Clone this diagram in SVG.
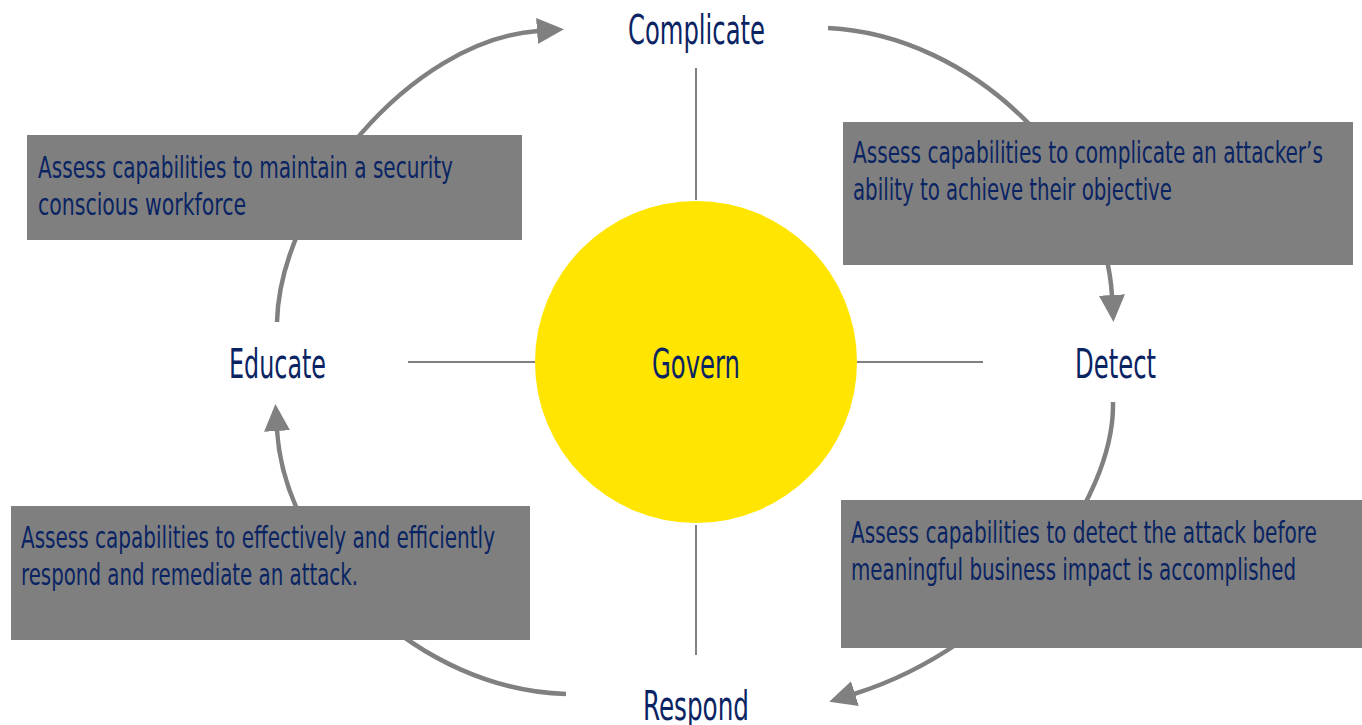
<svg xmlns="http://www.w3.org/2000/svg" width="1362" height="725" viewBox="0 0 1362 725">
<style>
.lbl{font-family:"DejaVu Sans Condensed","Liberation Sans",sans-serif;font-size:40px;fill:#0a2463;text-anchor:start}
.txt{font-family:"DejaVu Sans Condensed","Liberation Sans",sans-serif;font-size:30px;fill:#0a2463}
.box{fill:#7f7f7f}
.arc{fill:none;stroke:#808080;stroke-width:4.5}
.spoke{stroke:#808080;stroke-width:2}
</style>
<defs>
<marker id="ah" markerUnits="userSpaceOnUse" markerWidth="30" markerHeight="30" refX="1" refY="13" orient="auto">
<path d="M0,0 L27,13 L0,26 Z" fill="#808080"/>
</marker>
</defs>
<rect width="1362" height="725" fill="#ffffff"/>
<g id="connectors">
<line class="spoke" x1="696" y1="68" x2="696" y2="200"/>
<line class="spoke" x1="696" y1="525" x2="696" y2="655"/>
<line class="spoke" x1="408" y1="362" x2="535" y2="362"/>
<line class="spoke" x1="857" y1="362" x2="983" y2="362"/>
<path class="arc" d="M828,28 C975,35 1105,170 1112,296" marker-end="url(#ah)"/>
<path class="arc" d="M1113,402 C1115,500 1010,645 854,694" marker-end="url(#ah)"/>
<path class="arc" d="M566,694 C420,690 285,560 277,430" marker-end="url(#ah)"/>
<path class="arc" d="M277,322 C280,200 410,40 538,31" marker-end="url(#ah)"/>
</g>
<g id="govern">
<circle cx="696" cy="362" r="161" fill="#ffe500"/>
<text class="lbl" x="652" y="378" textLength="88" lengthAdjust="spacingAndGlyphs">Govern</text>
</g>
<g id="complicate">
<text class="lbl" x="628" y="44" textLength="137" lengthAdjust="spacingAndGlyphs">Complicate</text>
</g>
<g id="detect">
<text class="lbl" x="1075" y="378" textLength="81" lengthAdjust="spacingAndGlyphs">Detect</text>
</g>
<g id="respond">
<text class="lbl" x="643" y="720" textLength="106" lengthAdjust="spacingAndGlyphs">Respond</text>
</g>
<g id="educate">
<text class="lbl" x="229" y="378" textLength="97" lengthAdjust="spacingAndGlyphs">Educate</text>
</g>
<g id="box-educate">
<rect class="box" x="27" y="135" width="495" height="105"/>
<text class="txt" x="38" y="178" textLength="415" lengthAdjust="spacingAndGlyphs">Assess capabilities to maintain a security</text>
<text class="txt" x="38" y="215" textLength="208" lengthAdjust="spacingAndGlyphs">conscious workforce</text>
</g>
<g id="box-complicate">
<rect class="box" x="843" y="122" width="510" height="143"/>
<text class="txt" x="853" y="163" textLength="470" lengthAdjust="spacingAndGlyphs">Assess capabilities to complicate an attacker’s</text>
<text class="txt" x="853" y="200" textLength="319" lengthAdjust="spacingAndGlyphs">ability to achieve their objective</text>
</g>
<g id="box-detect">
<rect class="box" x="841" y="500" width="521" height="148"/>
<text class="txt" x="851" y="543" textLength="466" lengthAdjust="spacingAndGlyphs">Assess capabilities to detect the attack before</text>
<text class="txt" x="851" y="580" textLength="445" lengthAdjust="spacingAndGlyphs">meaningful business impact is accomplished</text>
</g>
<g id="box-respond">
<rect class="box" x="11" y="506" width="519" height="134"/>
<text class="txt" x="21" y="548" textLength="474" lengthAdjust="spacingAndGlyphs">Assess capabilities to effectively and efficiently</text>
<text class="txt" x="21" y="585" textLength="337" lengthAdjust="spacingAndGlyphs">respond and remediate an attack.</text>
</g>
</svg>
